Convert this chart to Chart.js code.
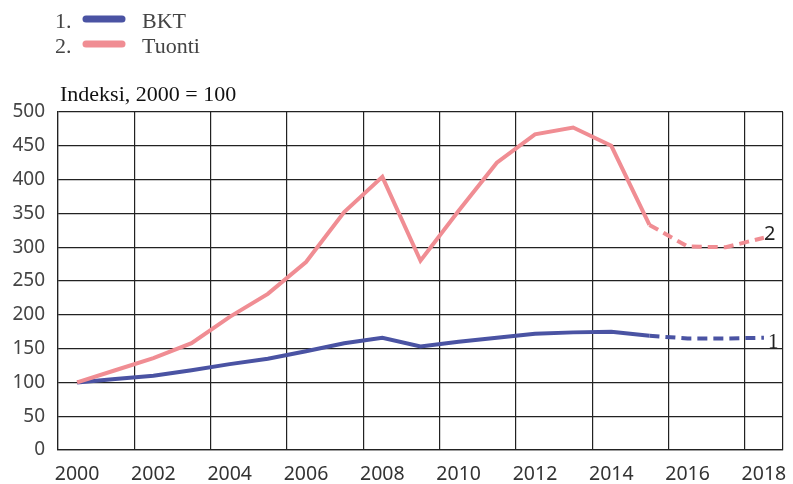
<!DOCTYPE html>
<html>
<head>
<meta charset="utf-8">
<script src="https://cdn.jsdelivr.net/npm/chart.js"></script>
<style>
  html, body { margin: 0; padding: 0; background: #fff; }
  #wrap { position: relative; width: 793px; height: 484px; }
</style>
</head>
<body>
<div id="wrap"><canvas id="c" width="793" height="484"></canvas></div>
<script>
// data
const years = [2000, 2001, 2002, 2003, 2004, 2005, 2006, 2007, 2008, 2009,
               2010, 2011, 2012, 2013, 2014, 2015, 2016, 2017, 2018];
const bkt = [100, 105, 110, 118, 127, 135, 146, 158, 166, 153,
             160, 166, 172, 174, 175, 169, 165, 165, 166];
const tuonti = [100, 118, 136, 158, 197, 231, 278, 352, 404, 280,
                354, 425, 467, 477, 450, 333, 301, 300, 314];
const forecastFrom = 2015;

const seriesNames = ['BKT', 'Tuonti'];
const seriesColors = ['#4a53a3', '#f08d93'];
const endLabels = ['1', '2'];

const gridYears = [1999.5, 2001.5, 2003.5, 2005.5, 2007.5, 2009.5, 2011.5, 2013.5, 2015.5, 2017.5, 2018.5];
const labelYears = [2000, 2002, 2004, 2006, 2008, 2010, 2012, 2014, 2016, 2018];
const yMin = 0, yMax = 500, yStep = 50;
const title = 'Indeksi, 2000 = 100';

const toPoints = vals => years.map((y, i) => ({ x: y, y: vals[i] }));
const dashed = ctx => ctx.p0.parsed.x >= forecastFrom ? [10, 6] : undefined;

// legend, title and end labels
const decorations = {
  id: 'decorations',
  afterDraw(chart) {
    const c = chart.ctx;
    c.save();
    c.fillStyle = '#444';
    c.font = '22px "Liberation Serif"';
    c.textBaseline = 'alphabetic';
    const rows = [28, 53];
    seriesNames.forEach((name, i) => {
      c.fillStyle = '#444';
      c.fillText((i + 1) + '.', 55, rows[i]);
      c.fillText(name, 142, rows[i]);
      c.strokeStyle = seriesColors[i];
      c.lineWidth = 7;
      c.lineCap = 'round';
      c.beginPath();
      c.moveTo(86, rows[i] - 9);
      c.lineTo(122, rows[i] - 9);
      c.stroke();
    });

    c.fillStyle = '#111';
    c.font = '22px "Liberation Serif"';
    c.fillText(title, chart.chartArea.left + 2, chart.chartArea.top - 11);

    const xs = chart.scales.x, ys = chart.scales.y;
    const last = years.length - 1;
    const px = xs.getPixelForValue(years[last]);
    c.fillStyle = '#222';
    c.font = '21px "Liberation Serif"';
    c.fillText(endLabels[0], px + 4, ys.getPixelForValue(bkt[last]) + 10);
    c.font = '20px "Noto Sans"';
    c.fillText(endLabels[1], px, ys.getPixelForValue(tuonti[last]) + 2);
    c.restore();
  }
};

const noOverflow = s => { s.paddingLeft = 0; s.paddingRight = 0; s.paddingTop = 0; s.paddingBottom = 0; };

new Chart(document.getElementById('c'), {
  type: 'line',
  data: {
    datasets: [
      {
        label: seriesNames[0],
        data: toPoints(bkt),
        borderColor: seriesColors[0],
        borderWidth: 4,
        pointRadius: 0,
        tension: 0,
        order: 2,
        segment: { borderDash: dashed }
      },
      {
        label: seriesNames[1],
        data: toPoints(tuonti),
        borderColor: seriesColors[1],
        borderWidth: 4,
        pointRadius: 0,
        tension: 0,
        order: 1,
        segment: { borderDash: dashed }
      }
    ]
  },
  options: {
    responsive: false,
    animation: false,
    layout: { padding: { top: 112, right: 10, left: 0, bottom: 0 } },
    plugins: {
      legend: { display: false },
      tooltip: { enabled: false }
    },
    scales: {
      x: {
        type: 'linear',
        position: 'bottom',
        min: gridYears[0],
        max: gridYears[gridYears.length - 1],
        afterBuildTicks: s => { s.ticks = gridYears.map(v => ({ value: v })); },
        afterFit: s => { s.height = 0; noOverflow(s); },
        ticks: { display: false },
        grid: { color: '#222', lineWidth: 1.2, drawTicks: false },
        border: { color: '#222', width: 1.2 }
      },
      x2: {
        type: 'linear',
        position: 'bottom',
        min: gridYears[0],
        max: gridYears[gridYears.length - 1],
        afterBuildTicks: s => { s.ticks = labelYears.map(v => ({ value: v })); },
        afterFit: s => { s.height = 34; noOverflow(s); },
        ticks: {
          autoSkip: false,
          maxRotation: 0,
          padding: 13,
          color: '#333',
          font: { family: 'Noto Sans', size: 19.5 },
          callback: v => String(v)
        },
        grid: { display: false, drawTicks: false },
        border: { display: false }
      },
      y: {
        min: yMin,
        max: yMax,
        afterFit: s => { s.width = 58; noOverflow(s); },
        ticks: {
          stepSize: yStep,
          padding: 13,
          color: '#444',
          font: { family: 'Noto Sans', size: 19 }
        },
        grid: { color: '#222', lineWidth: 1.2, drawTicks: false },
        border: { color: '#222', width: 1.2 }
      }
    }
  },
  plugins: [decorations]
});
</script>
</body>
</html>
